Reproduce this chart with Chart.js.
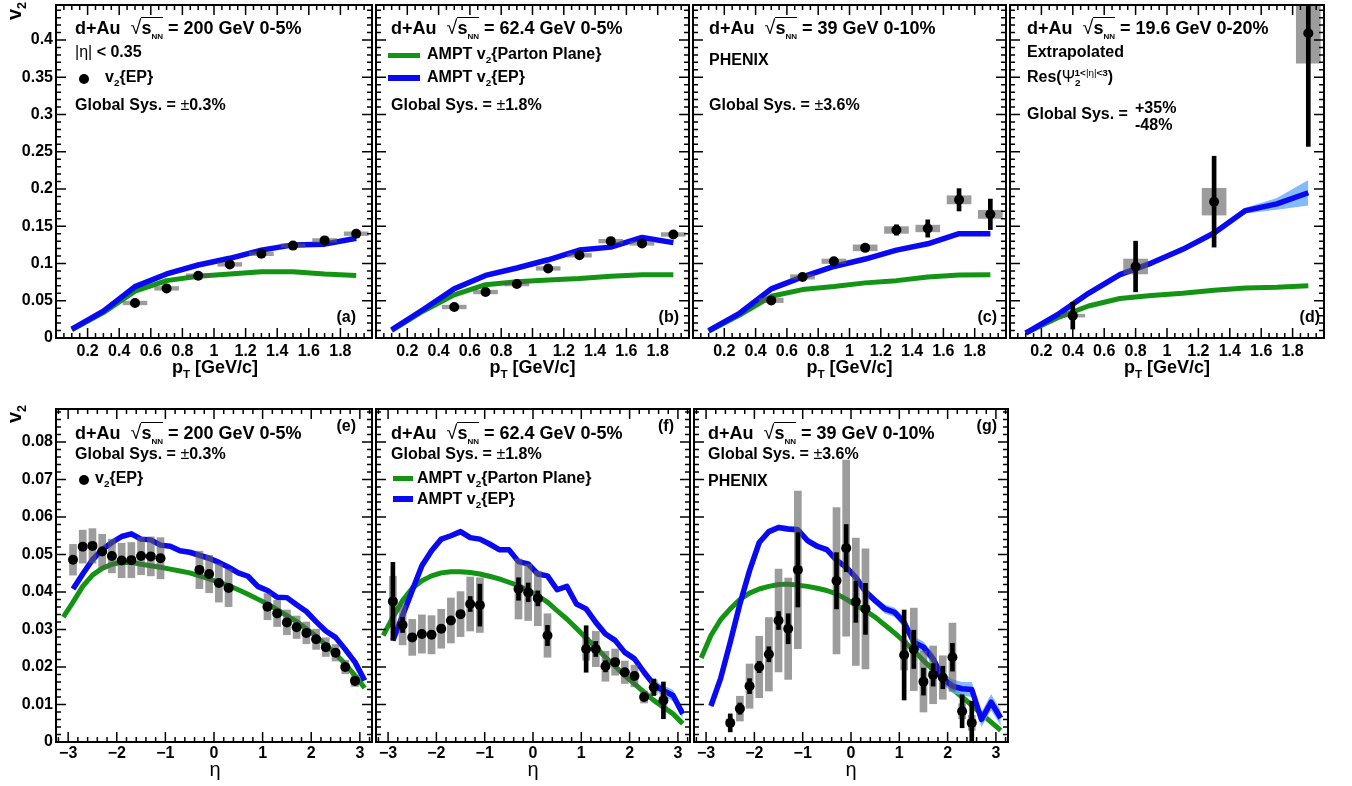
<!DOCTYPE html>
<html>
<head>
<meta charset="utf-8">
<script src="https://cdn.jsdelivr.net/npm/chart.js@4.4.1/dist/chart.umd.min.js"></script>
<style>
	html, body { margin: 0; width: 1352px; height: 786px; overflow: hidden; background: #fff; }
	body { position: relative; font-family: "Liberation Sans", Arial, sans-serif; font-weight: bold; color: #000; }
	canvas { position: absolute; }
	.t { position: absolute; white-space: nowrap; line-height: 1; }
	.t sub, .t sup { font-size: 0.62em; line-height: 0; }
	.lo { vertical-align: -0.45em; font-size: 0.65em; line-height: 0; }
	.rt { font-weight: normal; font-size: 1.1em; }
	.ov { border-top: 1.5px solid #000; }
	.nn { font-size: 8px !important; }
	.n { font-weight: normal; }
	.sw { position: absolute; }
	.dot { position: absolute; width: 10px; height: 10px; border-radius: 50%; background: #000; }
</style>
</head>
<body>
<script>
// values

// top row: v2 vs pT
const ptModel = [0.1, 0.3, 0.5, 0.7, 0.9, 1.1, 1.3, 1.5, 1.7, 1.9];
const ptData = [0.5, 0.7, 0.9, 1.1, 1.3, 1.5, 1.7, 1.9];

// (a) 200 GeV 0-5%
const aV2 = [0.047, 0.0666, 0.0836, 0.0988, 0.113, 0.124, 0.131, 0.140];
const aSys = [0.0025, 0.0025, 0.0025, 0.0025, 0.0025, 0.0025, 0.0025, 0.0025];
const aAmptEP = [0.012, 0.036, 0.069, 0.086, 0.098, 0.107, 0.118, 0.125, 0.126, 0.134];
const aAmptPP = [0.011, 0.034, 0.063, 0.077, 0.083, 0.086, 0.089, 0.089, 0.086, 0.084];

// (b) 62.4 GeV 0-5%
const bV2 = [0.0416, 0.0617, 0.0724, 0.0934, 0.111, 0.130, 0.127, 0.139];
const bStat = [0, 0, 0, 0, 0, 0, 0, 0.004];
const bSys = [0.0025, 0.0025, 0.0025, 0.0025, 0.0025, 0.0025, 0.0025, 0.0025];
const bAmptEP = [0.011, 0.038, 0.066, 0.084, 0.094, 0.105, 0.118, 0.122, 0.135, 0.128];
const bAmptPP = [0.010, 0.036, 0.058, 0.0715, 0.0755, 0.078, 0.080, 0.083, 0.085, 0.085];

// (c) 39 GeV 0-10%
const cV2 = [0.0505, 0.082, 0.103, 0.121, 0.145, 0.147, 0.1855, 0.166];
const cStat = [0, 0, 0, 0.002, 0.007, 0.0116, 0.015, 0.0205];
const cSys = [0.003, 0.003, 0.003, 0.004, 0.0045, 0.0045, 0.0055, 0.0055];
const cAmptEP = [0.010, 0.0335, 0.066, 0.082, 0.096, 0.106, 0.118, 0.1265, 0.140, 0.140];
const cAmptEPErr = [0.001, 0.001, 0.001, 0.001, 0.001, 0.001, 0.001, 0.001, 0.003, 0.003];
const cAmptPP = [0.009, 0.031, 0.056, 0.065, 0.069, 0.074, 0.077, 0.082, 0.0845, 0.085];

// (d) 19.6 GeV 0-20%
const dPt = [0.4, 0.8, 1.3, 1.9];
const dV2 = [0.030, 0.096, 0.183, 0.409];
const dStat = [0.018, 0.034, 0.061, 0.152];
const dSys = [0.002, 0.010, 0.018, 0.040];
const dAmptEP = [0.0067, 0.031, 0.060, 0.085, 0.1006, 0.119, 0.141, 0.171, 0.180, 0.195];
const dAmptEPErr = [0.001, 0.001, 0.001, 0.001, 0.001, 0.002, 0.002, 0.004, 0.008, 0.017];
const dAmptPP = [0.0067, 0.027, 0.043, 0.053, 0.057, 0.060, 0.064, 0.067, 0.068, 0.070];

// bottom row: v2 vs eta
const etaGreen = [-3.1, -2.9, -2.7, -2.5, -2.3, -2.1, -1.9, -1.7, -1.5, -1.3, -1.1, -0.9, -0.7, -0.5, -0.3, -0.1,
	0.1, 0.3, 0.5, 0.7, 0.9, 1.1, 1.3, 1.5, 1.7, 1.9, 2.1, 2.3, 2.5, 2.7, 2.9, 3.1];
const etaBlue = etaGreen.slice(1);
const etaData = [-2.9, -2.7, -2.5, -2.3, -2.1, -1.9, -1.7, -1.5, -1.3, -1.1, -0.3, -0.1, 0.1, 0.3,
	1.1, 1.3, 1.5, 1.7, 1.9, 2.1, 2.3, 2.5, 2.7, 2.9];

// (e) 200 GeV 0-5%
const eV2 = [0.0486, 0.0521, 0.0523, 0.0508, 0.0496, 0.0484, 0.0485, 0.0496, 0.0495, 0.0490,
	0.0459, 0.0448, 0.0424, 0.0411,
	0.0361, 0.0343, 0.0319, 0.0306, 0.0291, 0.0274, 0.0253, 0.0238, 0.0200, 0.0163];
const eSys = [0.0041, 0.0044, 0.0046, 0.0046, 0.0045, 0.0046, 0.0047, 0.0050, 0.0052, 0.0055,
	0.0050, 0.0050, 0.0051, 0.0050,
	0.0035, 0.0035, 0.0033, 0.0030, 0.0029, 0.0027, 0.0025, 0.0022, 0.0018, 0.0015];
const eAmptEP = [0.0408, 0.0448, 0.0486, 0.0513, 0.0532, 0.0548, 0.0555, 0.0541, 0.0539, 0.0525, 0.0522,
	0.0510, 0.0506, 0.0498, 0.0490, 0.0479, 0.0466, 0.0451, 0.0442, 0.0415, 0.0404, 0.0386, 0.0385,
	0.0366, 0.0348, 0.0321, 0.0296, 0.0279, 0.0247, 0.0213, 0.0164];
const eAmptPP = [0.0333, 0.0373, 0.0415, 0.0445, 0.0463, 0.0474, 0.0479, 0.0479, 0.0474, 0.0470, 0.0466,
	0.0461, 0.0456, 0.0451, 0.0443, 0.0435, 0.0426, 0.0417, 0.0406, 0.0394, 0.0381, 0.0368, 0.0353,
	0.0337, 0.0321, 0.0302, 0.0282, 0.0259, 0.0235, 0.0208, 0.0177, 0.0144];

// (f) 62.4 GeV 0-5%
const fV2 = [0.0375, 0.0312, 0.0279, 0.0288, 0.0286, 0.0302, 0.0324, 0.0341, 0.0368, 0.0365,
	0.0408, 0.0399, 0.0383, 0.0284,
	0.0248, 0.0248, 0.0202, 0.0213, 0.0186, 0.0176, 0.0120, 0.0146, 0.0111, null];
const fStat = [0.0104, 0.002, 0.001, 0.001, 0.001, 0.001, 0.001, 0.001, 0.002, 0.0056,
	0.003, 0.0025, 0.002, 0.0027,
	0.0062, 0.002, 0.0015, 0.001, 0.001, 0.001, 0.001, 0.0022, 0.0049, null];
const fSys = [0.0067, 0.0053, 0.0048, 0.0051, 0.0051, 0.0052, 0.0060, 0.0060, 0.0072, 0.0073,
	0.0080, 0.0075, 0.0073, 0.0058,
	0.0030, 0.0047, 0.0040, 0.0035, 0.0030, 0.0029, 0.0016, 0.0020, 0.0020, null];
const fAmptEP = [0.0271, 0.0337, 0.0404, 0.0470, 0.0510, 0.0541, 0.0550, 0.0561, 0.0545, 0.0541, 0.0528,
	0.0513, 0.0513, 0.0481, 0.0475, 0.0448, 0.0443, 0.0406, 0.0415, 0.0368, 0.0355, 0.0319, 0.0288,
	0.0271, 0.0239, 0.0222, 0.0186, 0.0153, 0.0137, 0.0124, 0.0075];
const fAmptEPErr = [0.0006, 0.0006, 0.0006, 0.0006, 0.0006, 0.0006, 0.0006, 0.0006, 0.0006, 0.0006, 0.0006,
	0.0006, 0.0006, 0.0006, 0.0006, 0.0006, 0.0006, 0.0006, 0.0006, 0.0006, 0.0006, 0.0008, 0.0008,
	0.0008, 0.0008, 0.001, 0.001, 0.0012, 0.0014, 0.0015, 0.0012];
const fAmptPP = [0.0284, 0.0333, 0.0377, 0.0410, 0.0430, 0.0443, 0.0451, 0.0454, 0.0454, 0.0452, 0.0448,
	0.0442, 0.0435, 0.0426, 0.0417, 0.0404, 0.0390, 0.0373, 0.0350, 0.0328, 0.0303, 0.0277, 0.0253,
	0.0226, 0.0202, 0.0177, 0.0155, 0.0133, 0.0111, 0.0093, 0.0075, 0.0049];

// (g) 39 GeV 0-10%
const gV2 = [null, null, 0.0051, 0.0089, 0.0149, 0.0200, 0.0234, 0.0324, 0.0302, 0.0459,
	0.0430, 0.0517, 0.0374, 0.0355,
	0.0232, 0.0247, 0.0161, 0.0179, 0.0172, 0.0226, 0.0082, 0.0051, null, null];
const gStat = [null, null, 0.0024, 0.0015, 0.002, 0.0015, 0.002, 0.0024, 0.004, 0.0099,
	0.0075, 0.0063, 0.0055, 0.0068,
	0.012, 0.0051, 0.0036, 0.003, 0.003, 0.0037, 0.0044, 0.0058, null, null];
const gSys = [null, null, 0.001, 0.0033, 0.0059, 0.0082, 0.0098, 0.0137, 0.0135, 0.021,
	0.0195, 0.0235, 0.017, 0.016,
	0.004, 0.011, 0.0081, 0.0077, 0.0058, 0.0091, 0.002, 0.002, null, null];
const gAmptEP = [0.0096, 0.0169, 0.0266, 0.0368, 0.0457, 0.0532, 0.0561, 0.0572, 0.0568, 0.0566, 0.0537,
	0.0522, 0.0513, 0.0485, 0.0466, 0.0439, 0.0401, 0.0377, 0.0355, 0.0346, 0.0319, 0.0266, 0.0253,
	0.0222, 0.0170, 0.0149, 0.0142, 0.0140, 0.0060, 0.0106, 0.0064];
const gAmptEPErr = [0.0008, 0.0008, 0.0008, 0.0008, 0.0008, 0.0008, 0.0008, 0.0008, 0.0008, 0.0008, 0.0008,
	0.0008, 0.0008, 0.0008, 0.0008, 0.0008, 0.001, 0.001, 0.0012, 0.0012, 0.0015, 0.0015, 0.0015,
	0.0015, 0.0015, 0.0018, 0.0018, 0.002, 0.002, 0.0022, 0.002];
const gAmptPP = [0.0224, 0.0284, 0.0326, 0.0355, 0.0380, 0.0397, 0.0408, 0.0415, 0.0420, 0.0421, 0.0418,
	0.0415, 0.0410, 0.0404, 0.0395, 0.0381, 0.0365, 0.0350, 0.0333, 0.0312, 0.0291, 0.0268, 0.0244,
	0.0217, 0.0193, 0.0169, 0.0142, 0.0120, 0.0098, 0.0075, 0.0053, 0.0031];


// styles
Chart.defaults.font.family = '"Liberation Sans", Arial, sans-serif';
Chart.defaults.color = '#000';

const GREEN = '#149414',
	BLUE = '#0a0af2',
	BAND = 'rgba(110,175,255,0.85)',
	BOX = 'rgba(90,90,90,0.6)';

const pts = (xs, ys) => xs.map((x, i) => ({x, y: ys[i]})).filter(p => p.y != null);
const bars = (xs, ys, err) => xs
	.map((x, i) => (ys[i] == null || !err[i]) ? null : {x, y: [ys[i] - err[i], ys[i] + err[i]]})
	.filter(Boolean);

const line = (xs, ys, color, w, order) => ({
	type: 'line', data: pts(xs, ys), borderColor: color, borderWidth: w,
	pointRadius: 0, fill: false, tension: 0, borderCapStyle: 'butt', borderJoinStyle: 'round', order
});


// ROOT-like frame with inner ticks on all four sides
const rootFrame = {
	id: 'rootFrame',
	afterDraw(chart, args, o) {
		const {ctx, chartArea: a, scales: {x, y}} = chart;
		const each = (sc, major, minor, cb) => {
			const k0 = Math.ceil(sc.min / minor - 1e-6), k1 = Math.floor(sc.max / minor + 1e-6);
			for (let k = k0; k <= k1; k++) {
				const v = k * minor;
				const isMajor = Math.abs(v / major - Math.round(v / major)) < 1e-6;
				cb(sc.getPixelForValue(v), isMajor ? 10 : 5);
			}
		};
		ctx.save();
		ctx.strokeStyle = '#000';
		ctx.lineWidth = 1.5;
		ctx.beginPath();
		each(x, o.xMajor, o.xMinor, (p, len) => {
			ctx.moveTo(p, a.bottom); ctx.lineTo(p, a.bottom - len);
			ctx.moveTo(p, a.top); ctx.lineTo(p, a.top + len);
		});
		each(y, o.yMajor, o.yMinor, (p, len) => {
			ctx.moveTo(a.left, p); ctx.lineTo(a.left + len, p);
			ctx.moveTo(a.right, p); ctx.lineTo(a.right - len, p);
		});
		ctx.stroke();
		ctx.lineWidth = 2;
		ctx.strokeRect(a.left, a.top, a.right - a.left, a.bottom - a.top);
		ctx.restore();
	}
};

const fmtPt = v => (v < 0.1 || v > 1.95) ? '' : String(Number(v.toFixed(1)));
const fmtEta = v => String(v).replace('-', '\u2212');
const fmtV2 = v => String(Number(v.toFixed(3)));

function makePanel(o) {
	const [L, T, R, B] = o.frame;
	const showY = !!o.showY;
	const padL = showY ? L : 3, padR = 3, padT = 4, padB = 50;
	const cv = document.createElement('canvas');
	cv.width = R - L + padL + padR;
	cv.height = B - T + padT + padB;
	cv.style.left = (L - padL) + 'px';
	cv.style.top = (T - padT) + 'px';
	document.body.appendChild(cv);

	const datasets = [];
	datasets.push(line(o.greenX, o.green, GREEN, 5, 6));
	if (o.blueErr) {
		const up = o.blue.map((v, i) => v + o.blueErr[i]);
		const lo = o.blue.map((v, i) => v - o.blueErr[i]);
		datasets.push({type: 'line', data: pts(o.blueX, up), borderColor: 'rgba(0,0,0,0)', borderWidth: 0,
			pointRadius: 0, tension: 0, fill: '+1', backgroundColor: BAND, order: 5});
		datasets.push({type: 'line', data: pts(o.blueX, lo), borderColor: 'rgba(0,0,0,0)', borderWidth: 0,
			pointRadius: 0, tension: 0, fill: false, order: 5});
	}
	datasets.push(line(o.blueX, o.blue, BLUE, 5.5, 4));
	datasets.push({type: 'bar', data: bars(o.dataX, o.v2, o.sys), backgroundColor: BOX,
		barThickness: o.boxW, grouped: false, borderWidth: 0, order: 3});
	if (o.stat) {
		datasets.push({type: 'bar', data: bars(o.dataX, o.v2, o.stat), backgroundColor: '#000',
			barThickness: 4, grouped: false, borderWidth: 0, order: 1});
	}
	datasets.push({type: 'scatter', data: pts(o.dataX, o.v2), pointRadius: 5, pointHoverRadius: 5,
		backgroundColor: '#000', borderWidth: 0, order: 0});

	new Chart(cv, {
		type: 'scatter',
		data: {datasets},
		plugins: [rootFrame],
		options: {
			responsive: false,
			animation: false,
			devicePixelRatio: 1,
			layout: {padding: {left: showY ? 0 : padL, right: padR, top: padT, bottom: 0}},
			scales: {
				x: {
					type: 'linear', min: o.xMin, max: o.xMax, offset: false,
					grid: {display: false, drawTicks: false}, border: {display: false},
					ticks: {stepSize: o.xStep, includeBounds: false, autoSkip: false, maxRotation: 0,
						padding: o.xPad, font: {size: 16, weight: 'bold'}, callback: o.xFmt},
					afterFit: s => { s.height = padB; s.paddingLeft = 0; s.paddingRight = 0; }
				},
				y: {
					type: 'linear', min: 0, max: o.yMax, display: showY,
					grid: {display: false, drawTicks: false}, border: {display: false},
					ticks: {stepSize: o.yStep, includeBounds: false, autoSkip: false,
						padding: 3, font: {size: 16, weight: 'bold'}, callback: fmtV2},
					afterFit: s => {
						if (showY) s.width = padL;
						s.paddingTop = 0; s.paddingBottom = 0;
					}
				}
			},
			plugins: {
				legend: {display: false},
				tooltip: {enabled: false},
				rootFrame: {xMajor: o.xMajor, xMinor: o.xMinor, yMajor: o.yStep, yMinor: o.yMinor}
			}
		}
	});
}

const topRow = {xMin: 0, xMax: 2, xStep: 0.2, xMajor: 0.2, xMinor: 0.05, xFmt: fmtPt, xPad: 4,
	yMax: 0.447, yStep: 0.05, yMinor: 0.01, boxW: 24, greenX: ptModel, blueX: ptModel};
const botRow = {xMin: -3.25, xMax: 3.25, xStep: 1, xMajor: 1, xMinor: 0.2, xFmt: fmtEta, xPad: 2,
	yMax: 0.0888, yStep: 0.01, yMinor: 0.002, boxW: 7, greenX: etaGreen, blueX: etaBlue, dataX: etaData};

makePanel({...topRow, frame: [56, 4, 374, 338], showY: true, dataX: ptData, v2: aV2, sys: aSys,
	blue: aAmptEP, green: aAmptPP});
makePanel({...topRow, frame: [374, 4, 691, 338], dataX: ptData, v2: bV2, stat: bStat, sys: bSys,
	blue: bAmptEP, green: bAmptPP});
makePanel({...topRow, frame: [691, 4, 1008, 338], dataX: ptData, v2: cV2, stat: cStat, sys: cSys,
	blue: cAmptEP, blueErr: cAmptEPErr, green: cAmptPP});
makePanel({...topRow, frame: [1008, 4, 1326, 338], dataX: dPt, v2: dV2, stat: dStat, sys: dSys,
	blue: dAmptEP, blueErr: dAmptEPErr, green: dAmptPP});

makePanel({...botRow, frame: [56, 408, 374, 742], showY: true, v2: eV2, sys: eSys,
	blue: eAmptEP, green: eAmptPP});
makePanel({...botRow, frame: [374, 408, 692, 742], v2: fV2, stat: fStat, sys: fSys,
	blue: fAmptEP, blueErr: fAmptEPErr, green: fAmptPP});
makePanel({...botRow, frame: [692, 408, 1010, 742], v2: gV2, stat: gStat, sys: gSys,
	blue: gAmptEP, blueErr: gAmptEPErr, green: gAmptPP});


// text, placed by baseline
function txt(x, base, size, html, align) {
	const d = document.createElement('div');
	d.className = 't';
	d.style.fontSize = size + 'px';
	d.style.top = (base - 0.8465 * size) + 'px';
	if (align === 'right') d.style.right = (1352 - x) + 'px';
	else d.style.left = x + 'px';
	d.innerHTML = html;
	document.body.appendChild(d);
	return d;
}
function centered(l, r, base, size, html, cls) {
	const d = txt(l, base, size, html);
	d.style.width = (r - l) + 'px';
	d.style.textAlign = 'center';
	if (cls) d.classList.add(cls);
}
function swatch(x, y, w, h, color) {
	const d = document.createElement('div');
	d.className = 'sw';
	Object.assign(d.style, {left: x + 'px', top: (y - h / 2) + 'px', width: w + 'px', height: h + 'px', background: color});
	document.body.appendChild(d);
}
function dot(x, y) {
	const d = document.createElement('div');
	d.className = 'dot';
	Object.assign(d.style, {left: (x - 5) + 'px', top: (y - 5) + 'px'});
	document.body.appendChild(d);
}

const title = (e, c) => `d+Au&nbsp; <span class="rt">&radic;</span><span class="ov">s<sub class="nn">NN</sub></span> = ${e} GeV ${c}`;
const sys = p => `Global Sys. = <span class="n">&plusmn;</span>${p}`;

// top row
txt(75, 33, 18, title('200', '0-5%'));
txt(75, 58, 16, '<span class="n">|&eta;|</span> &lt; 0.35');
dot(84, 79);
txt(105, 83, 16, 'v<sub>2</sub>{EP}');
txt(75, 111, 16, sys('0.3%'));
txt(356, 323, 16, '(a)', 'right');

txt(391, 33, 18, title('62.4', '0-5%'));
swatch(388, 55, 32, 5, GREEN);
txt(427, 60, 16, 'AMPT v<sub>2</sub>{Parton Plane}');
swatch(388, 78, 32, 6, BLUE);
txt(427, 83, 16, 'AMPT v<sub>2</sub>{EP}');
txt(391, 111, 16, sys('1.8%'));
txt(679, 323, 16, '(b)', 'right');

txt(709, 33, 18, title('39', '0-10%'));
txt(709, 66, 16, 'PHENIX');
txt(709, 111, 16, sys('3.6%'));
txt(997, 323, 16, '(c)', 'right');

txt(1027, 33, 18, title('19.6', '0-20%'));
txt(1027, 58, 16, 'Extrapolated');
txt(1027, 83, 16, 'Res(<span class="n">&Psi;</span><sub>2</sub><sup style="margin-left:-6px">1&lt;<span class="n">|&eta;|</span>&lt;3</sup>)');
txt(1027, 120, 16, 'Global Sys. =');
txt(1135, 114, 16, '+35%');
txt(1135, 131, 16, '-48%');
txt(1320, 323, 16, '(d)', 'right');

// bottom row
txt(75, 438, 18, title('200', '0-5%'));
txt(75, 460, 16, sys('0.3%'));
dot(84, 480);
txt(95, 484, 16, 'v<sub>2</sub>{EP}');
txt(356, 432, 16, '(e)', 'right');

txt(391, 438, 18, title('62.4', '0-5%'));
txt(391, 460, 16, sys('1.8%'));
swatch(393, 478, 20, 5, GREEN);
txt(417, 484, 16, 'AMPT v<sub>2</sub>{Parton Plane}');
swatch(393, 499, 20, 6, BLUE);
txt(417, 505, 16, 'AMPT v<sub>2</sub>{EP}');
txt(674, 432, 16, '(f)', 'right');

txt(708, 438, 18, title('39', '0-10%'));
txt(708, 460, 16, sys('3.6%'));
txt(708, 487, 16, 'PHENIX');
txt(997, 432, 16, '(g)', 'right');

// axis titles
[[56, 374], [374, 691], [691, 1008], [1008, 1326]].forEach(([l, r]) =>
	centered(l, r, 373, 18, 'p<span class="lo">T</span> [GeV/c]'));
[[56, 374], [374, 692], [692, 1010]].forEach(([l, r]) =>
	centered(l, r, 776, 20, '&eta;', 'n'));

[20, 423].forEach(y => {
	const d = txt(4, y, 20, 'v<sub>2</sub>');
	d.style.top = y + 'px';
	d.style.transformOrigin = 'left top';
	d.style.transform = 'rotate(-90deg)';
});
</script>
</body>
</html>
